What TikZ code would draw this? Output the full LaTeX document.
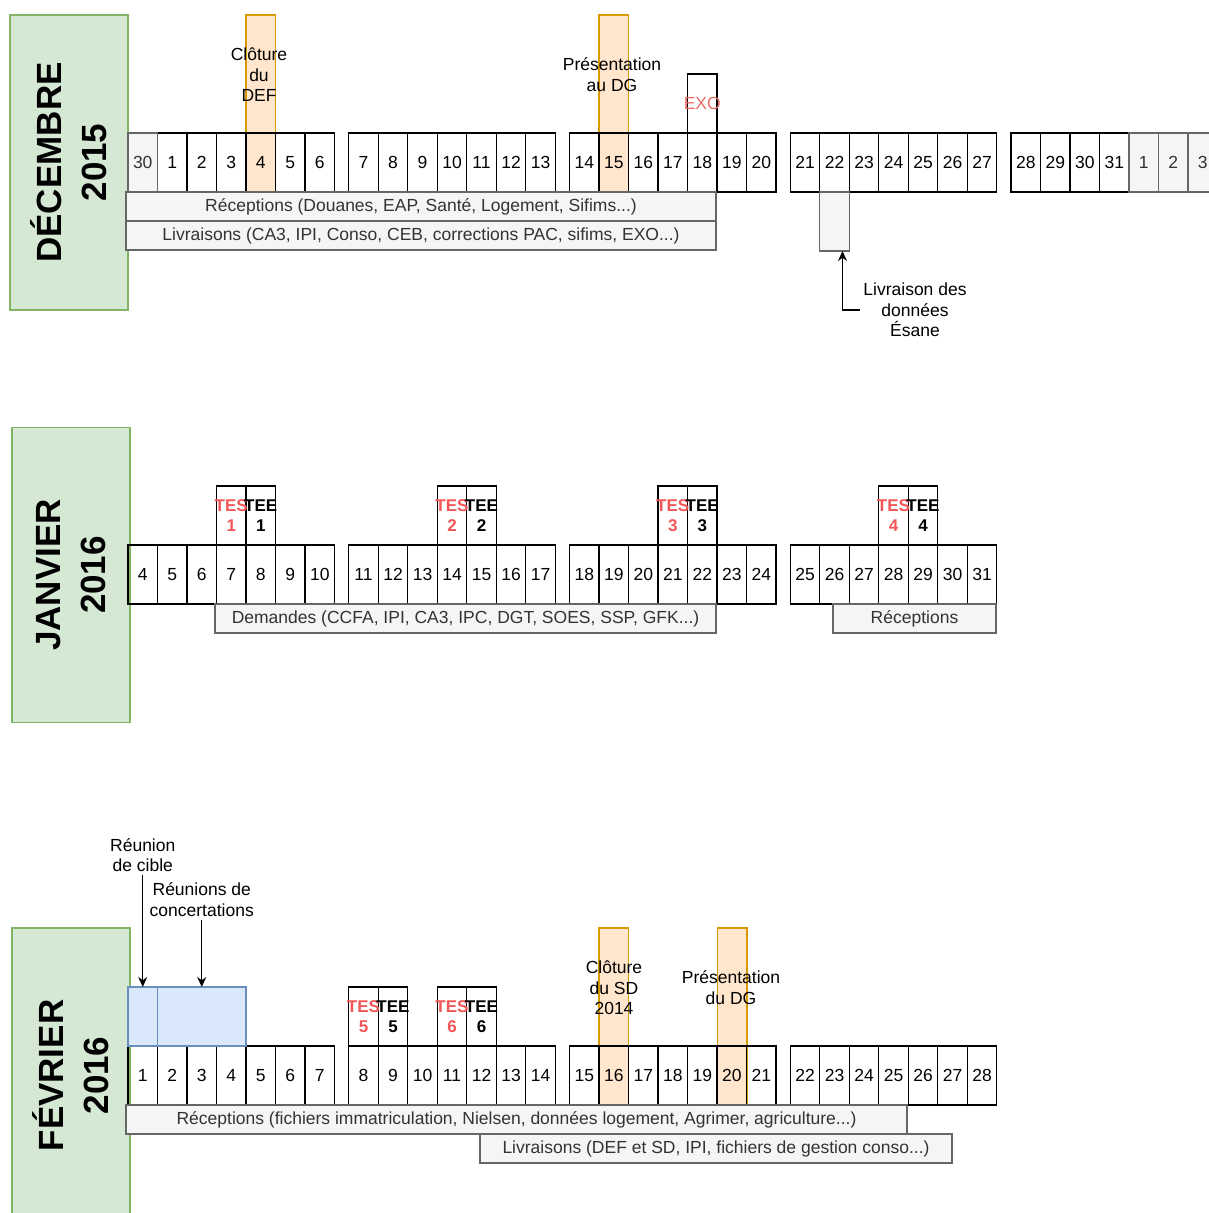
\documentclass[tikz,border=0pt]{standalone}
\usepackage{fontspec}
\setmainfont{Liberation Sans}
\usepackage{tikz}
\usetikzlibrary{arrows,positioning,calc}
\usetikzlibrary{arrows.meta}
\definecolor{moisColor}{HTML}{D5E8D4}
\definecolor{moisLine}{HTML}{82B366}
\definecolor{jalColor}{HTML}{FFE6CC}
\definecolor{jalLine}{HTML}{D79B00}
\definecolor{reuColor}{HTML}{DAE8FC}
\definecolor{reuLine}{HTML}{6C8EBF}
\definecolor{barColor}{HTML}{F5F5F5}
\definecolor{barLine}{HTML}{666666}
\definecolor{barText}{HTML}{333333}
\definecolor{tesColor}{HTML}{F25656}
\definecolor{exoColor}{HTML}{EA6B66}
\tikzset{
	txt/.style={font=\fontsize{17.5}{20.5}\selectfont, align=center},
	day/.style={txt, draw, line width=1.1pt, minimum width=29.5pt, minimum height=59pt, inner sep=0pt, outer sep=0pt},
	dayg/.style={day, draw=barLine, fill=barColor, text=barText},
	mois/.style={draw=moisLine, fill=moisColor, line width=1.1pt, rotate=90,
		font=\fontsize{35}{45}\selectfont\bfseries, align=center,
		minimum width=295pt, minimum height=118pt, inner sep=0pt},
	jalon/.style={draw=jalLine, fill=jalColor, line width=1.1pt, minimum width=29.5pt, minimum height=177pt, inner sep=0pt},
	reunion/.style={day, draw=reuLine, fill=reuColor},
	bar/.style={txt, draw=barLine, fill=barColor, text=barText, line width=1.1pt, minimum height=29pt, inner sep=0pt},
	tes/.style={font=\fontsize{17}{20}\selectfont\bfseries, align=center, text=tesColor},
	tee/.style={tes, text=black}
}

\begin{document}
\begin{tikzpicture}[x=1pt, y=-1pt, >={Stealth[length=10pt,width=9pt]}]
	\useasboundingbox (0,0) rectangle (1208,1213);
	\node[mois] (mDec) at (69,162.5) {DÉCEMBRE\\2015};
	\node[mois] (mJan) at (71,575) {JANVIER\\2016};
	\node[mois] (mFev) at (71,1075.5) {FÉVRIER\\2016};
	\node[jalon] (o1) at (260.75,103.5) {};
	\node[jalon] (o2) at (613.75,103.5) {};
	\node[jalon] (o3) at (613.75,1016.5) {};
	\node[jalon] (o4) at (732.25,1016.5) {};
	% decembre
	\foreach \d [evaluate={\d as \x using 128+int(\d/7)*220.75+(mod(\d,7)+0.5)*29.5}] in {1,...,31}
		\node[day] (d\d) at (\x,162.5) {\d};
	\node[dayg] (d0) at (142.75,162.5) {30};
	\node[dayg] (n1) at (1143.75,162.5) {1};
	\node[dayg] (n2) at (1173.25,162.5) {2};
	\node[dayg] (n3) at (1202.75,162.5) {3};
	\node[day, above=0pt of d18] (exo) {};
	\node[txt, text=exoColor] at (exo) {EXO};
	\node[dayg, below=0pt of d22] (g22) {};
	\node[txt] (clo1) at (259,75) {Clôture\\du\\DEF};
	\node[txt] (pres1) at (612,74.5) {Présentation\\au DG};
	\node[bar, minimum width=590pt] (recD) at (421,206.5) {Réceptions (Douanes, EAP, Santé, Logement, Sifims...)};
	\node[bar, minimum width=590pt] (livD) at (421,235.5) {Livraisons (CA3, IPI, Conso, CEB, corrections PAC, sifims, EXO...)};
	\node[txt] (esane) at (915,310) {Livraison des\\données\\Ésane};
	\draw[->, line width=1.3pt] (esane.west) -| ([xshift=8pt]g22.south);
	% janvier
	\foreach \d [evaluate={\d as \x using 128+int((\d-4)/7)*220.75+(mod(\d-4,7)+0.5)*29.5}] in {4,...,31}
		\node[day] (j\d) at (\x,574.5) {\d};
	\node[day, above=0pt of j7] (ts1) {};
	\node[day, above=0pt of j8] (te1) {};
	\node[day, above=0pt of j14] (ts2) {};
	\node[day, above=0pt of j15] (te2) {};
	\node[day, above=0pt of j21] (ts3) {};
	\node[day, above=0pt of j22] (te3) {};
	\node[day, above=0pt of j28] (ts4) {};
	\node[day, above=0pt of j29] (te4) {};
	\node[tes] at (ts1) {TES\\1};
	\node[tee] at (te1) {TEE\\1};
	\node[tes] at (ts2) {TES\\2};
	\node[tee] at (te2) {TEE\\2};
	\node[tes] at (ts3) {TES\\3};
	\node[tee] at (te3) {TEE\\3};
	\node[tes] at (ts4) {TES\\4};
	\node[tee] at (te4) {TEE\\4};
	\node[bar, minimum width=501pt] (demJ) at (465.5,618.5) {Demandes (CCFA, IPI, CA3, IPC, DGT, SOES, SSP, GFK...)};
	\node[bar, minimum width=163pt] (recJ) at (914.5,618.5) {Réceptions};
	% fevrier
	\foreach \d [evaluate={\d as \x using 128+int((\d-1)/7)*220.75+(mod(\d-1,7)+0.5)*29.5}] in {1,...,28}
		\node[day] (f\d) at (\x,1075.5) {\d};
	\node[reunion, above=0pt of f1] (r1) {};
	\node[reunion, minimum width=88.5pt, above=0pt of f3] (r2) {};
	\node[day, above=0pt of f8] (ts5) {};
	\node[day, above=0pt of f9] (te5) {};
	\node[day, above=0pt of f11] (ts6) {};
	\node[day, above=0pt of f12] (te6) {};
	\node[tes] at (ts5) {TES\\5};
	\node[tee] at (te5) {TEE\\5};
	\node[tes] at (ts6) {TES\\6};
	\node[tee] at (te6) {TEE\\6};
	\node[txt] (clo2) at (614,988) {Clôture\\du SD\\2014};
	\node[txt] (pres2) at (731,987.5) {Présentation\\du DG};
	\node[txt] (cible) at (142.75,855) {Réunion\\de cible};
	\node[txt] (concert) at (201.75,899.5) {Réunions de\\concertations};
	\draw[->, line width=1.3pt] (cible.south) -- (r1.north);
	\draw[->, line width=1.3pt] (concert.south) -- (r2.north);
	\node[bar, minimum width=781pt] (recF) at (516.5,1119.5) {Réceptions (fichiers immatriculation, Nielsen, données logement, Agrimer, agriculture...)};
	\node[bar, minimum width=472pt] (livF) at (716,1148.5) {Livraisons (DEF et SD, IPI, fichiers de gestion conso...)};
\end{tikzpicture}
\end{document}
